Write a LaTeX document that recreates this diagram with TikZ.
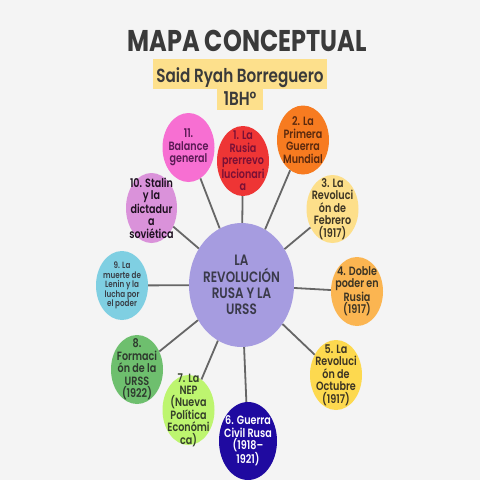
\documentclass[tikz,border=0pt]{standalone}
\usepackage{fontspec}
\setmainfont{Poppins}[FakeStretch=0.8, BoldFont={Poppins SemiBold}]
\newfontfamily\titlefont{Poppins}[FakeStretch=0.8]
\usetikzlibrary{shapes.geometric}
\definecolor{bg}{HTML}{F4F4F4}
\definecolor{titlec}{HTML}{3A3A3A}
\definecolor{hl}{HTML}{FDE08C}
\definecolor{linec}{HTML}{666666}
\tikzset{
  bubble/.style={ellipse, draw=none, inner sep=0pt},
  btext/.style={align=center, font=\fontsize{12}{12.4}\selectfont\bfseries, inner sep=0pt},
  conn/.style={draw=linec, line width=1.8pt},
}
\begin{document}
\begin{tikzpicture}[x=1pt,y=-1pt]
\fill[bg] (0,0) rectangle (480,480);
\useasboundingbox (0,0) rectangle (480,480);

% title
\node[font=\fontsize{30}{30}\selectfont\titlefont\bfseries, text=titlec, inner sep=0pt] (title) at (247,41) {MAPA CONCEPTUAL};
\node[fill=hl, minimum width=174pt, minimum height=30pt, inner sep=0pt] (box1) at (240,74) {};
\node[fill=hl, minimum width=46pt, minimum height=21pt, inner sep=0pt] (box2) at (240,99) {};
\node[font=\fontsize{19}{19}\selectfont\bfseries, text=titlec, inner sep=0pt, anchor=base] (sub1) at (240,82) {Said Ryah Borreguero};
\node[font=\fontsize{19}{19}\selectfont\bfseries, text=titlec, inner sep=0pt, anchor=base] (sub2) at (240,105) {1BH°};

% bubbles
\node[bubble, fill={rgb,255:red,166;green,156;blue,224}, minimum width=105pt, minimum height=124pt] (c) at (241.5,285) {};
\node[bubble, fill={rgb,255:red,238;green,53;blue,53}, minimum width=52pt, minimum height=70pt] (n1) at (243,161) {};
\node[bubble, fill={rgb,255:red,247;green,123;blue,32}, minimum width=52pt, minimum height=69pt] (n2) at (303,140) {};
\node[bubble, fill={rgb,255:red,253;green,223;blue,138}, minimum width=52pt, minimum height=68pt] (n3) at (332.5,209) {};
\node[bubble, fill={rgb,255:red,251;green,181;blue,81}, minimum width=52pt, minimum height=69pt] (n4) at (357,291.5) {};
\node[bubble, fill={rgb,255:red,253;green,217;blue,79}, minimum width=52pt, minimum height=70pt] (n5) at (336,375) {};
\node[bubble, fill={rgb,255:red,31;green,10;blue,160}, minimum width=58pt, minimum height=78pt] (n6) at (248,441) {};
\node[bubble, fill={rgb,255:red,189;green,245;blue,111}, minimum width=52pt, minimum height=70pt] (n7) at (188.5,410) {};
\node[bubble, fill={rgb,255:red,110;green,191;blue,110}, minimum width=52pt, minimum height=69pt] (n8) at (137,369.5) {};
\node[bubble, fill={rgb,255:red,127;green,207;blue,226}, minimum width=52pt, minimum height=69pt] (n9) at (122,285.5) {};
\node[bubble, fill={rgb,255:red,218;green,146;blue,218}, minimum width=51pt, minimum height=70pt] (n10) at (151.5,208) {};
\node[bubble, fill={rgb,255:red,247;green,111;blue,210}, minimum width=52pt, minimum height=69pt] (n11) at (188.5,147.5) {};

% connectors
\foreach \n in {n1,n2,n3,n4,n5,n6,n7,n8,n9,n10,n11}
  \draw[conn] (c) -- (\n);

% texts
\node[btext, font=\fontsize{15}{16.3}\selectfont\bfseries, text={rgb,255:red,58;green,58;blue,74}] (ct) at (c) {LA\\REVOLUCIÓN\\RUSA Y LA\\URSS};
\node[btext, text={rgb,255:red,122;green,16;blue,53}] (t1) at (n1) {1. La\\Rusia\\prerrevo\\lucionari\\a};
\node[btext, text={rgb,255:red,92;green,42;blue,14}] (t2) at (n2) {2. La\\Primera\\Guerra\\Mundial};
\node[btext, text={rgb,255:red,60;green,52;blue,36}] (t3) at (n3) {3. La\\Revoluci\\ón de\\Febrero\\(1917)};
\node[btext, text={rgb,255:red,60;green,52;blue,36}] (t4) at (n4) {4. Doble\\poder en\\Rusia\\(1917)};
\node[btext, text={rgb,255:red,60;green,52;blue,36}] (t5) at (n5) {5. La\\Revoluci\\ón de\\Octubre\\(1917)};
\node[btext, text=white] (t6) at (n6) {6. Guerra\\Civil Rusa\\(1918–\\1921)};
\node[btext, text={rgb,255:red,53;green,64;blue,42}] (t7) at (n7) {7. La\\NEP\\(Nueva\\Política\\Económi\\ca)};
\node[btext, text={rgb,255:red,46;green,58;blue,46}] (t8) at (n8) {8.\\Formaci\\ón de la\\URSS\\(1922)};
\node[btext, font=\fontsize{9}{9.4}\selectfont\bfseries, text={rgb,255:red,58;green,64;blue,72}] (t9) at (n9) {9. La\\muerte de\\Lenin y la\\lucha por\\el poder};
\node[btext, text={rgb,255:red,30;green,16;blue,32}] (t10) at (n10) {10. Stalin\\y la\\dictadur\\a\\soviética};
\node[btext, text={rgb,255:red,90;green,26;blue,85}] (t11) at (n11) {11.\\Balance\\general};
\end{tikzpicture}
\end{document}
